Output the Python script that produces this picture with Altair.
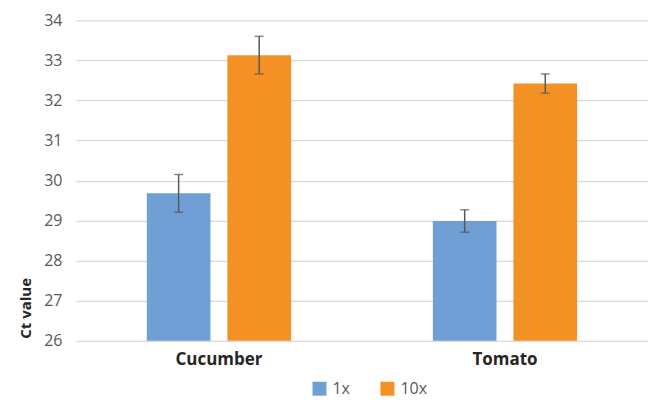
import altair as alt
import pandas as pd

categories = ["Cucumber", "Tomato"]
series = ["1x", "10x"]
ct_1x = [29.68, 28.99]
ct_10x = [33.13, 32.42]
err_1x = [0.47, 0.28]
err_10x = [0.47, 0.24]
colors = ["#6f9fd5", "#f39124"]

rows = []
for i, c in enumerate(categories):
    rows.append({"cat": c, "series": "1x", "ct": ct_1x[i], "err": err_1x[i]})
    rows.append({"cat": c, "series": "10x", "ct": ct_10x[i], "err": err_10x[i]})
df = pd.DataFrame(rows)
df["lo"] = df["ct"] - df["err"]
df["hi"] = df["ct"] + df["err"]

FONT = "Open Sans"

x_enc = alt.X("cat:N", sort=categories, title=None,
              scale=alt.Scale(paddingInner=0, paddingOuter=0),
              axis=alt.Axis(labelFontWeight="bold", labelFontSize=17, labelColor="#262626",
                            labelPadding=11, domain=False, ticks=False, labelAngle=0))
xoff = alt.XOffset("series:N", sort=series,
                   scale=alt.Scale(domain=series, paddingInner=0.21, paddingOuter=0.88))
y_scale = alt.Scale(domain=[26, 34], nice=False, zero=False)

base = alt.Chart(df)

bars = base.mark_bar().encode(
    x=x_enc,
    xOffset=xoff,
    y=alt.Y("ct:Q", scale=y_scale, title="Ct value",
            axis=alt.Axis(values=list(range(26, 35)), labelFontSize=16, labelColor="#595959",
                          labelPadding=14, domain=False, ticks=False,
                          gridColor="#d9d9d9", gridWidth=1.3,
                          titleFontSize=15, titleFontWeight="bold", titleColor="#262626",
                          titleAngle=270, titleX=-50, titleY=288,
                          titleAlign="center", titleBaseline="middle")),
    y2=alt.datum(26),
    color=alt.Color("series:N", sort=series,
                    scale=alt.Scale(domain=series, range=colors),
                    legend=alt.Legend(title=None, orient="none", direction="horizontal",
                                      legendX=236, legendY=361,
                                      symbolType="square", symbolSize=196, symbolStrokeWidth=0,
                                      labelFontSize=16, labelColor="#595959",
                                      columnPadding=29, labelOffset=5)),
)

rules = base.mark_rule(color="#595959", strokeWidth=1.5).encode(
    x=alt.X("cat:N", sort=categories),
    xOffset=xoff,
    y=alt.Y("lo:Q", scale=y_scale),
    y2="hi:Q",
)

caps_lo = base.mark_tick(color="#595959", thickness=1.5, size=9).encode(
    x=alt.X("cat:N", sort=categories),
    xOffset=xoff,
    y=alt.Y("lo:Q", scale=y_scale),
)
caps_hi = base.mark_tick(color="#595959", thickness=1.5, size=9).encode(
    x=alt.X("cat:N", sort=categories),
    xOffset=xoff,
    y=alt.Y("hi:Q", scale=y_scale),
)

chart = alt.layer(bars, rules, caps_lo, caps_hi).properties(
    width=573, height=321,
    autosize=alt.AutoSizeParams(type="none"),
    padding={"left": 68, "top": 12, "right": 0, "bottom": 59},
).configure(font=FONT).configure_view(stroke=None)

chart.save("out.html", embed_options={"renderer": "svg", "actions": False})
